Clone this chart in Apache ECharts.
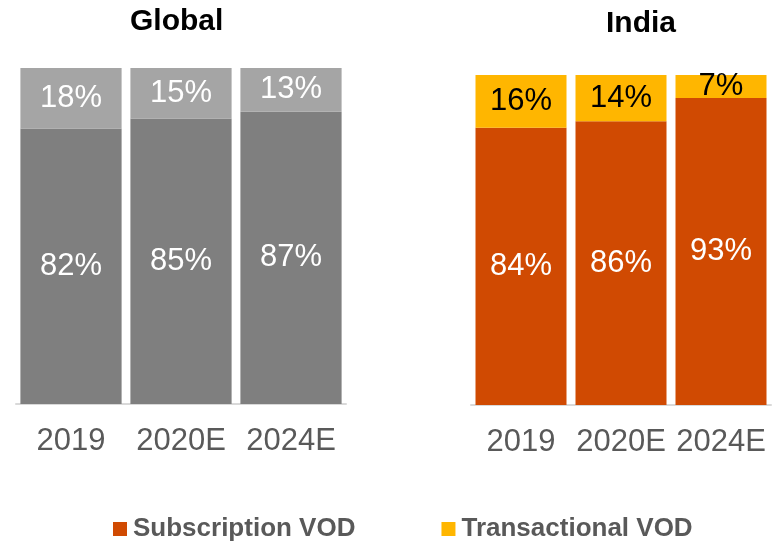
<!DOCTYPE html>
<html lang="en">
<head>
<meta charset="UTF-8">
<title>VOD split</title>
<script src="https://cdn.jsdelivr.net/npm/echarts@6.0.0/dist/echarts.min.js"></script>
<style>
    body { margin: 0; padding: 0; background: #fff; }
    #chart { width: 772px; height: 545px; }
</style>
</head>
<body>
<div id="chart"></div>
<script>
  // data
  var years = ['2019', '2020E', '2024E'];
  var globalSvod = [82, 85, 87];
  var globalTvod = [18, 15, 13];
  var indiaSvod = [84, 86, 93];
  var indiaTvod = [16, 14, 7];

  var font = 'Liberation Sans, Arial, sans-serif';
  var myChart = echarts.init(document.getElementById('chart'));

  function barLabel(color) {
    return {
      show: true,
      position: 'inside',
      formatter: '{c}%',
      color: color,
      fontSize: 31,
      fontFamily: font
    };
  }

  var axisCommon = {
    type: 'category',
    data: years,
    axisTick: { show: false },
    axisLine: { lineStyle: { color: '#D9D9D9', width: 2 } },
    axisLabel: { color: '#595959', fontSize: 31, fontFamily: font, margin: 22, interval: 0, hideOverlap: false }
  };

  var option = {
    animation: false,
    color: ['#D04A02', '#FFB600'],
    title: [
      { text: 'Global', left: 125, top: 2, textStyle: { fontSize: 30, fontWeight: 'bold', color: '#000', fontFamily: font } },
      { text: 'India', left: 601, top: 4, textStyle: { fontSize: 30, fontWeight: 'bold', color: '#000', fontFamily: font } }
    ],
    legend: {
      data: ['Subscription VOD', 'Transactional VOD'],
      left: 108,
      top: 511,
      itemWidth: 14,
      itemHeight: 14,
      itemGap: 86,
      icon: 'rect',
      textStyle: { color: '#595959', fontSize: 26, fontWeight: 'bold', fontFamily: font, padding: [0, 0, 0, 1] }
    },
    grid: [
      { left: 16, width: 330, top: 68, height: 336 },
      { left: 471, width: 300, top: 75, height: 330 }
    ],
    xAxis: [
      Object.assign({ gridIndex: 0 }, axisCommon),
      Object.assign({ gridIndex: 1 }, axisCommon)
    ],
    yAxis: [
      { gridIndex: 0, type: 'value', min: 0, max: 100, show: false },
      { gridIndex: 1, type: 'value', min: 0, max: 100, show: false }
    ],
    series: [
      {
        name: 'Global SVOD', type: 'bar', stack: 'g', xAxisIndex: 0, yAxisIndex: 0,
        barCategoryGap: '8%', data: globalSvod,
        itemStyle: { color: '#7F7F7F' }, label: barLabel('#fff')
      },
      {
        name: 'Global TVOD', type: 'bar', stack: 'g', xAxisIndex: 0, yAxisIndex: 0,
        barCategoryGap: '8%', data: globalTvod,
        itemStyle: { color: '#A5A5A5' }, label: barLabel('#fff')
      },
      {
        name: 'Subscription VOD', type: 'bar', stack: 'i', xAxisIndex: 1, yAxisIndex: 1,
        barCategoryGap: '9%', data: indiaSvod,
        itemStyle: { color: '#D04A02' }, label: barLabel('#fff')
      },
      {
        name: 'Transactional VOD', type: 'bar', stack: 'i', xAxisIndex: 1, yAxisIndex: 1,
        barCategoryGap: '9%', data: indiaTvod,
        itemStyle: { color: '#FFB600' }, label: barLabel('#000')
      }
    ]
  };

  myChart.setOption(option);
</script>
</body>
</html>
